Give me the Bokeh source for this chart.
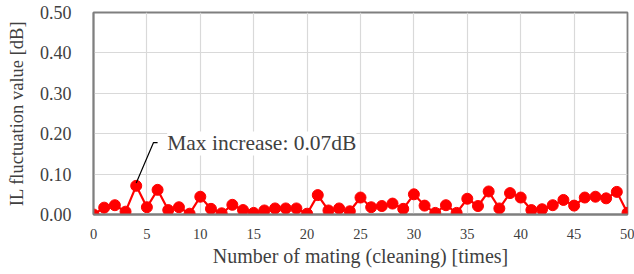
from bokeh.plotting import figure
from bokeh.models import ColumnDataSource, Label, FixedTicker, NumeralTickFormatter
from bokeh.embed import file_html
from bokeh.resources import INLINE

x_vals = list(range(0, 51))
il_values = [0.000, 0.017, 0.023, 0.007, 0.071, 0.018, 0.061, 0.011, 0.018, 0.002,
             0.044, 0.014, 0.003, 0.024, 0.011, 0.004, 0.010, 0.015, 0.015, 0.015,
             0.002, 0.048, 0.010, 0.015, 0.008, 0.042, 0.018, 0.021, 0.027, 0.014,
             0.050, 0.022, 0.004, 0.023, 0.004, 0.039, 0.021, 0.057, 0.015, 0.053,
             0.042, 0.011, 0.013, 0.023, 0.036, 0.022, 0.042, 0.044, 0.040, 0.056,
             0.004]
x_ticks = [0, 5, 10, 15, 20, 25, 30, 35, 40, 45, 50]
y_ticks = [0.0, 0.1, 0.2, 0.3, 0.4, 0.5]
annot_text = "Max increase: 0.07dB"
annot_x = 4
annot_y = 0.071

FONT = "Liberation Serif"
src = ColumnDataSource(dict(x=x_vals, y=il_values))

p = figure(width=634, height=274, x_range=(0, 50), y_range=(0, 0.5),
           output_backend="svg", toolbar_location=None,
           min_border_left=93, min_border_right=7, min_border_top=12, min_border_bottom=60)

p.outline_line_color = "#7f7f7f"
p.outline_line_width = 1.8
p.background_fill_color = "white"
p.border_fill_color = "white"

p.xgrid.ticker = FixedTicker(ticks=x_ticks)
p.ygrid.ticker = FixedTicker(ticks=y_ticks)
p.xgrid.grid_line_color = "#d9d9d9"
p.ygrid.grid_line_color = "#d9d9d9"
p.xgrid.grid_line_width = 1.2
p.ygrid.grid_line_width = 1.2

p.xaxis.ticker = FixedTicker(ticks=x_ticks)
p.yaxis.ticker = FixedTicker(ticks=y_ticks)
p.yaxis.formatter = NumeralTickFormatter(format="0.00")

for ax in (p.xaxis[0], p.yaxis[0]):
    ax.axis_line_color = "#7f7f7f"
    ax.axis_line_width = 1.8
    ax.major_tick_line_color = None
    ax.minor_tick_line_color = None
    ax.major_tick_out = 0
    ax.major_tick_in = 0
    ax.minor_tick_out = 0
    ax.minor_tick_in = 0
    ax.major_label_text_font = FONT
    ax.axis_label_text_font = FONT
    ax.axis_label_text_font_style = "normal"
    ax.major_label_text_color = "#404040"
    ax.axis_label_text_color = "#404040"

p.xaxis.major_label_text_font_size = "14.5px"
p.yaxis.major_label_text_font_size = "18px"
p.xaxis.axis_label = "Number of mating (cleaning) [times]"
p.yaxis.axis_label = "IL fluctuation value [dB]"
p.xaxis.axis_label_text_font_size = "20px"
p.yaxis.axis_label_text_font_size = "18.5px"
p.xaxis.major_label_standoff = 14
p.yaxis.major_label_standoff = 22
p.xaxis.axis_label_standoff = 3
p.yaxis.axis_label_standoff = 10

p.line("x", "y", source=src, line_color="#ff0000", line_width=2.2)
p.scatter("x", "y", source=src, size=11, fill_color="#ff0000", line_color="#ff0000")

# leader line for annotation
p.line([annot_x, annot_x + 1.62, annot_x + 2.0], [annot_y + 0.007, annot_y + 0.107, annot_y + 0.107],
       line_color="black", line_width=1.2)

p.add_layout(Label(x=annot_x + 2.9, y=annot_y + 0.105, text=annot_text,
                   text_font=FONT, text_font_size="21.5px", text_color="#404040",
                   text_baseline="middle", background_fill_color="white"))

open("out.html", "w").write(file_html(p, INLINE))
